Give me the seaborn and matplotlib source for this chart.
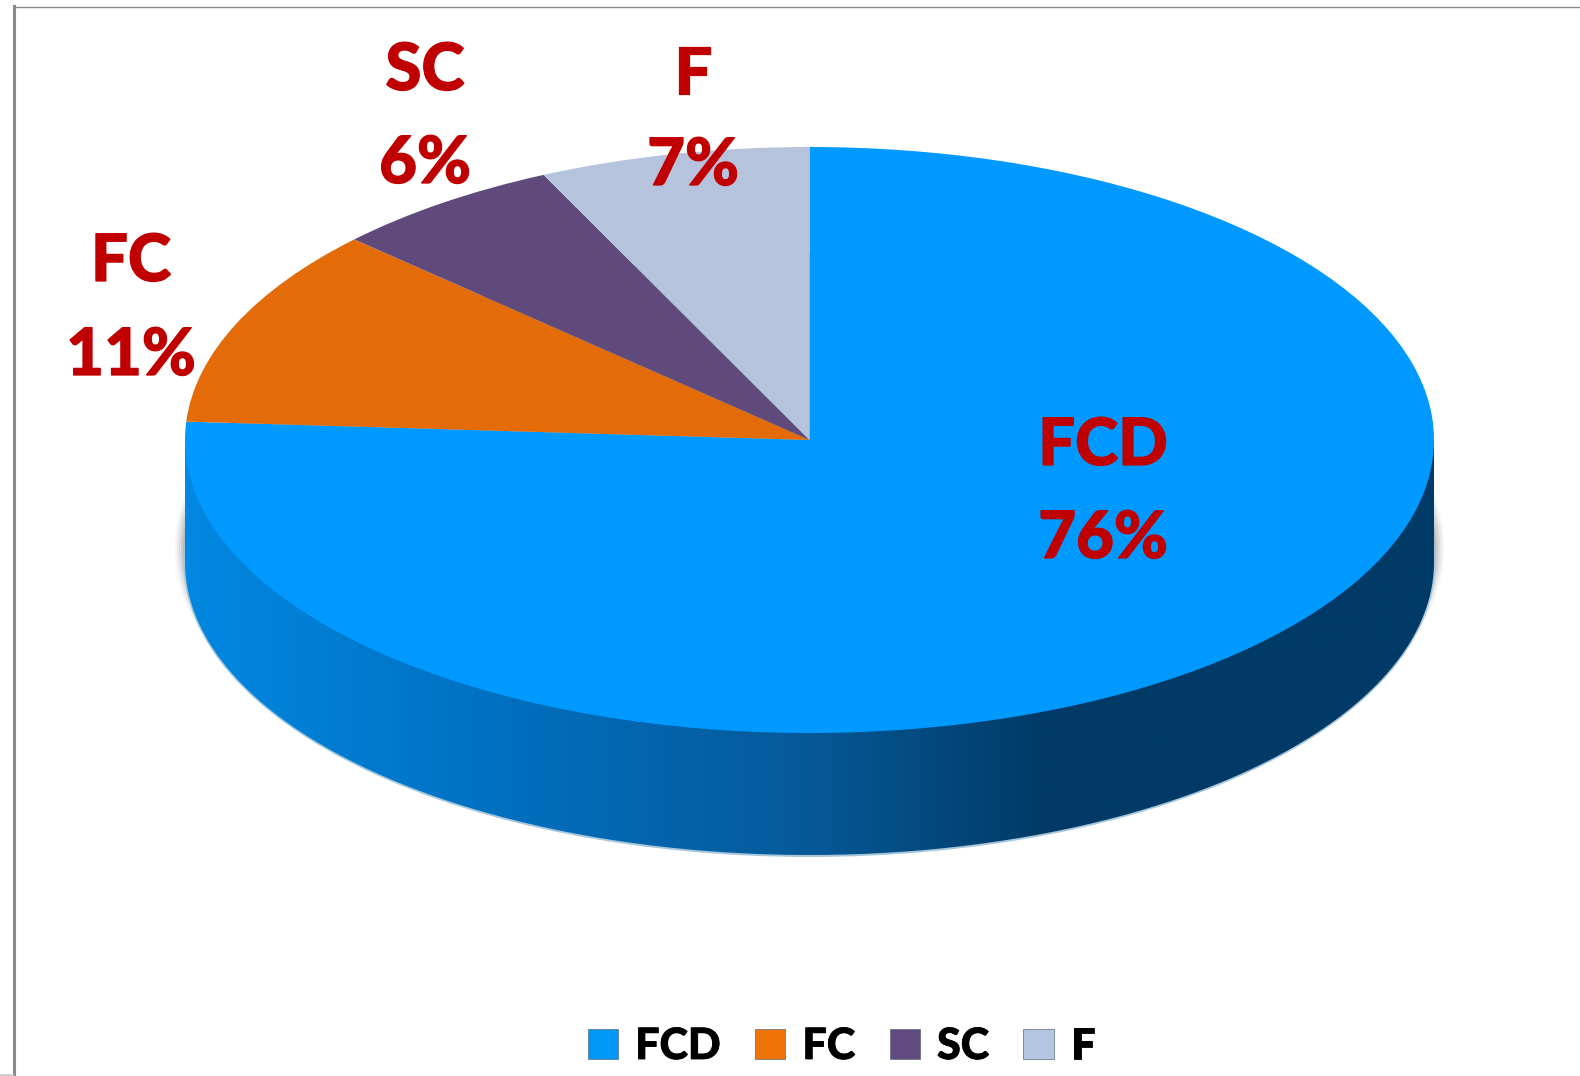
import numpy as np
import matplotlib
matplotlib.use("Agg")
import matplotlib.pyplot as plt
import matplotlib.patheffects as pe
from matplotlib.colors import LinearSegmentedColormap
from matplotlib.patches import Ellipse
from matplotlib.path import Path
import seaborn as sns

sns.set_theme(style="white")
plt.rcParams['font.family'] = ['Lato', 'DejaVu Sans']

names = ["FCD", "FC", "SC", "F"]
shares = [76, 11, 6, 7]
top_colors = ["#0099ff", "#e36c09", "#604a7b", "#b6c3dd"]
legend_colors = ["#0098f8", "#f07408", "#604a80", "#b4c6e2"]
wall_stops = [(0.0, "#0288e2"), (0.25, "#0070c0"), (0.49, "#065a9a"),
              (0.69, "#003a66"), (1.0, "#003a66")]

W, H = 1580, 1076
CX, CY, RX, RY = 809.5, 440, 624.5, 293  # top ellipse, in pixels
DEPTH = 122 / RY
RED = "#c00000"

fig = plt.figure(figsize=(W / 100, H / 100), dpi=100)
ax = fig.add_axes([14 / W, 0, 1 - 14 / W, 1 - 6.5 / H])

# soft shadow and pale rim round the base
for grow, alpha in zip([10, 8, 6, 4, 2], [0.08, 0.10, 0.14, 0.2, 0.3]):
    ax.add_patch(Ellipse((0, -108 / RY), 2 * (RX + grow) / RX, 2 * (RY + grow / 3) / RY,
                         color="#8c8c8c", alpha=alpha, lw=0, zorder=1))
ax.add_patch(Ellipse((0, -DEPTH), 2 * (RX + 1.5) / RX, 2 * (RY + 2) / RY,
                     color="#a6c6da", lw=0, zorder=1.5))

# side wall: gradient clipped to the lower band
cmap = LinearSegmentedColormap.from_list("wall", wall_stops)
wall = ax.imshow(np.linspace(0, 1, 1024)[None, :], cmap=cmap, aspect="auto",
                 extent=(-1, 1, -1 - DEPTH, 0), zorder=2, interpolation="bilinear")
theta = np.linspace(np.pi, 2 * np.pi, 300)
edge = np.column_stack([np.cos(theta), np.sin(theta) - DEPTH])
wall.set_clip_path(Path(np.vstack([[[-1, 0]], edge, [[1, 0]], [[-1, 0]]])), ax.transData)

wedges, _ = ax.pie(shares, colors=sns.color_palette(top_colors), startangle=90,
                   counterclock=False, radius=1, center=(0, 0), frame=True,
                   wedgeprops=dict(linewidth=0))
for w in wedges:
    w.set_zorder(3)

ax.set_aspect("auto")
ax.set_xlim((14 - CX) / RX, (W - CX) / RX)
ax.set_ylim(-(H - CY) / RY, (CY - 6.5) / RY)
ax.set_xticks([])
ax.set_yticks([])
sns.despine(ax=ax, right=True, bottom=True)
for side in ["left", "top"]:
    ax.spines[side].set_visible(True)
    ax.spines[side].set_color("#8a8a8a")
ax.spines["left"].set_linewidth(2.2)
ax.spines["top"].set_linewidth(1.0)

# little stub at the bottom left corner
fig.add_artist(plt.Line2D([0, 13 / W], [1.5 / H, 1.5 / H], color="#d0d0d0", lw=1.5))

# slice labels (centre of name line, centre of value line, in pixels)
label_x = [1103, 131, 425, 693]
name_y = [441, 257, 66, 70]
value_y = [534, 351, 159, 161]
heavy = [pe.withStroke(linewidth=0.9, foreground=RED)]
for name, share, x, y1, y2 in zip(names, shares, label_x, name_y, value_y):
    fig.text(x / W, 1 - y1 / H, name, color=RED, fontsize=47, fontweight="black",
             ha="center", va="center_baseline", zorder=10, path_effects=heavy)
    fig.text(x / W, 1 - y2 / H, f"{share}%", color=RED, fontsize=47, fontweight="black",
             ha="center", va="center_baseline", zorder=10, path_effects=heavy)

handles = [plt.Rectangle((0, 0), 1, 1, facecolor=c, edgecolor="#5a6a7a", linewidth=0.5)
           for c in legend_colors]
leg = fig.legend(handles, names, ncol=4, loc="center", bbox_to_anchor=(841.5 / W, 1 - 1046 / H),
                 frameon=False, prop=dict(family="Lato", weight="black", size=31),
                 handlelength=0.7, handleheight=0.7, handletextpad=0.4, columnspacing=0.8,
                 labelcolor="black", borderpad=0, borderaxespad=0)
for t in leg.get_texts():
    t.set_path_effects([pe.withStroke(linewidth=0.6, foreground="black")])

fig.savefig("out.png", dpi=100, facecolor="white")
